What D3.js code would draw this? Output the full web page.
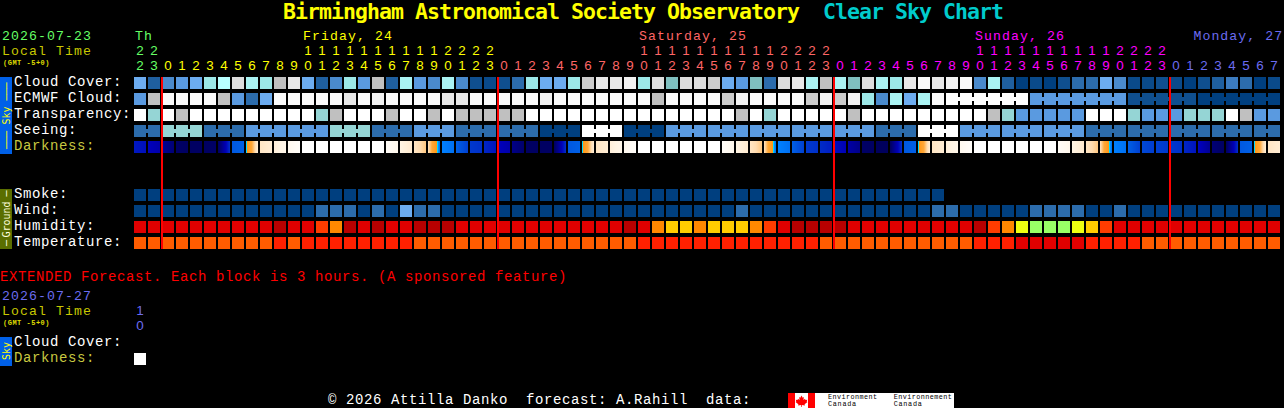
<!DOCTYPE html>
<html>
<head>
<meta charset="utf-8">
<script src="https://cdn.jsdelivr.net/npm/d3@7"></script>
<style>
html,body{margin:0;padding:0;background:#000;overflow:hidden}
svg{display:block}
</style>
</head>
<body>
<svg id="chart" width="1284" height="408"></svg>
<script>
// ---- data ----
const hours = [22,23,0,1,2,3,4,5,6,7,8,9,10,11,12,13,14,15,16,17,18,19,20,21,22,23,
  0,1,2,3,4,5,6,7,8,9,10,11,12,13,14,15,16,17,18,19,20,21,22,23,
  0,1,2,3,4,5,6,7,8,9,10,11,12,13,14,15,16,17,18,19,20,21,22,23,
  0,1,2,3,4,5,6,7];
const dayOfColumn = [0,0,
  1,1,1,1,1,1,1,1,1,1,1,1,1,1,1,1,1,1,1,1,1,1,1,1,
  2,2,2,2,2,2,2,2,2,2,2,2,2,2,2,2,2,2,2,2,2,2,2,2,
  3,3,3,3,3,3,3,3,3,3,3,3,3,3,3,3,3,3,3,3,3,3,3,3,
  4,4,4,4,4,4,4,4];
const dayNames = ["Th","Friday, 24","Saturday, 25","Sunday, 26","Monday, 27"];
const dayNameColumn = [0,12,36,60,75.6];
const dayColors = ["#66ff66","#ffff00","#ff6666","#ff00ff","#6c6cf0"];
const midnightColumns = [2,26,50,74];

const cloud = [40,15,30,35,40,50,60,75,55,50,65,80,40,15,30,50,35,65,15,55,35,
  30,55,30,10,5,10,20,50,40,40,50,70,80,80,85,50,75,45,75,75,70,40,35,45,20,75,80,55,65,55,45,
  75,55,50,80,90,80,85,90,30,55,15,0,5,0,10,20,20,40,30,5,5,10,5,0,10,15,25,20,0,5];
const ecmwf = [35,65,90,90,90,90,65,35,20,40,90,90,90,90,90,80,90,85,90,90,90,
  90,80,80,90,90,90,90,90,85,90,90,90,90,90,90,90,65,90,90,90,90,70,85,90,90,90,90,70,85,70,85,
  50,30,55,40,55,90,100,100,100,100,100,100,35,35,35,35,35,35,35,10,10,10,10,10,0,0,0,0,0,0];
const ecmwfJoinedRuns = [[58,63],[64,70],[71,75],[76,81]];
const transparency = [0,2,0,1,0,0,0,0,0,0,0,0,0,2,1,0,0,0,1,0,0,
  1,0,1,1,1,1,1,0,0,0,0,0,0,0,0,0,0,0,0,0,0,0,1,0,2,0,0,0,0,0,1,
  0,0,0,0,0,0,0,0,0,1,2,3,3,3,3,3,0,0,0,2,3,3,3,2,2,2,0,1,3,3];
const seeingBlocks = [4,2,4,3,3,2,4,3,4,4,5,0,5,3,3,3,3,3,4,0,3,3,3,4,4,4,4,4];
const darkFrom = [2.5,2.1,1.3,.3,.2,.2,.1,4,5.3,8.4,8.8,9.4,10,10,10,10,10,10,9.7,9,8.4,
  8.2,5,4.2,3.2,2.8,2.1,1,.2,.2,.1,4,5.3,8.4,8.8,9.4,10,10,10,10,10,10,9.7,9,8.4,8.2,5,4.2,3.2,2.9,2.3,1.6,
  .3,.1,.1,4,5.3,8.4,8.8,9.4,10,10,10,10,10,10,9.7,9,8.4,8.2,5,4.2,3.6,3.4,3.2,2.8,2.2,.6,.1,4,5.3,8.4];
const darkTo = [2.3,1.7,.6,.2,.2,.3,3,4.2,8.8,8.7,9.2,9.8,10,10,10,10,10,10,9.3,8.6,7.6,
  4.6,4.6,3.4,3,2.4,1.7,.4,.2,.2,3,4.2,8.8,8.7,9.2,9.8,10,10,10,10,10,10,9.3,8.6,7.6,4.6,4.6,3.4,3,2.6,2,1,
  .2,.1,3,4.2,8.8,8.7,9.2,9.8,10,10,10,10,10,10,9.3,8.6,7.6,4.6,4.6,3.4,3.3,3.2,3,2.4,1.2,.2,3,4.2,8.8,8.7];
const smoke = [0,0,0,0,0,0,0,0,0,0,0,0,0,0,0,0,0,0,0,0,0,0,0,0,0,0,0,0,0,
  0,0,0,0,0,0,0,0,0,0,0,0,0,0,0,0,0,0,0,0,0,0,0,0,0,0,0,0,0];
const wind = [0,0,0,0,0,0,0,0,0,0,0,0,0,1,1,1,0,1,0,2,1,
  1,0,0,0,0,0,0,0,0,0,0,0,0,0,0,0,0,0,0,0,0,0,1,0,0,0,0,0,0,0,0,
  0,0,0,0,0,1,1,0,0,0,0,0,1,1,1,1,0,0,1,0,0,0,0,0,0,0,0,0,0,0];
const humidity = [85,85,85,85,85,85,85,85,85,85,95,85,85,55,45,95,85,95,85,85,95,
  95,95,85,85,85,85,85,85,85,85,85,85,85,85,95,85,45,35,35,45,35,35,35,45,55,85,95,95,95,95,85,
  85,85,85,85,85,85,85,85,95,55,45,30,25,25,25,30,35,55,85,85,85,85,85,85,85,85,85,85,85,85];
const temperature = [20,20,20,20,20,20,20,20,20,20,25,20,25,25,25,25,25,25,25,25,20,
  20,20,20,20,20,20,20,20,20,20,20,20,20,20,20,25,25,25,25,25,25,25,25,25,25,25,25,25,20,20,20,
  20,20,20,20,20,20,20,20,25,25,25,30,30,30,30,30,25,25,25,25,20,20,20,20,20,20,20,20,20,20];

const cloudKeys = [0,5,10,15,20,25,30,35,40,45,50,55,60,65,70,75,80,85,90,100];
const cloudColors = ["#003f7f","#0a4a8a","#0f4f8f","#1f5f9f","#2c6cac","#3c7cc0","#4a8acc","#5a9ae0","#6cacf0","#7fbfbf",
  "#9ce8e8","#aaf3f3","#b8ffff","#c0c0c0","#cccccc","#dddddd","#e8e8e8","#f2f2f2","#fafafa","#ffffff"];
const skyKeys = [0,1,2,3,4,5];
const skyColors = ["#ffffff","#c0c0c0","#95d5d5","#5a9ae0","#2c6cac","#003f7f"];
const windKeys = [0,1,2];
const windColors = ["#003f7f","#2c6cac","#6cacf0"];
const humidityKeys = [25,30,35,45,55,85,95];
const humidityColors = ["#99ff66","#eeff11","#ffcc00","#ff8800","#ff3c00","#e00000","#b80000"];
const temperatureKeys = [20,25,30];
const temperatureColors = ["#ff5c00","#ff2000","#e00000"];
const darkStops = [0,1,2,3,4,5,5.3,5.6,5.65,7,8,9,10];
const darkColors = ["#000058","#000088","#0000b8","#0030c8","#0058e0","#0080ff","#00d8ff","#00d8ff","#ff9818","#ffa838","#ffdcb0","#fff4e4","#ffffff"];

const extendedDarkness = [10];
const rowLabels = ["Cloud Cover:","ECMWF Cloud:","Transparency:","Seeing:","Darkness:"];
const groundLabels = ["Smoke:","Wind:","Humidity:","Temperature:"];

// ---- scales ----
const x = d3.scaleBand().domain(d3.range(82)).range([134,1280]).paddingInner(2/14);
const rowY = d3.scaleOrdinal()
  .domain(["cloud","ecmwf","transparency","seeing","darkness","smoke","wind","humidity","temperature"])
  .range([77,93,109,125,141,189,205,221,237]);
const CELL = x.bandwidth();
const cloudScale = d3.scaleOrdinal(cloudKeys,cloudColors);
const skyScale = d3.scaleOrdinal(skyKeys,skyColors);
const windScale = d3.scaleOrdinal(windKeys,windColors);
const humidityScale = d3.scaleOrdinal(humidityKeys,humidityColors);
const temperatureScale = d3.scaleOrdinal(temperatureKeys,temperatureColors);
const darkScale = d3.scaleLinear(darkStops,darkColors);

const svg = d3.select("#chart");
svg.append("rect").attr("width",1284).attr("height",408).attr("fill","#000");

const MONO = "'Liberation Mono',monospace";
const TITLE = "'DejaVu Sans Mono',monospace";
function label(parent,str,px,py,color,opt={}){
  const fs = opt.size||14, adv = opt.adv||9;
  const family = opt.title?TITLE:MONO;
  const ratio = opt.title?0.602:0.6;
  return parent.append("text")
    .attr("x",px).attr("y",py).attr("fill",color)
    .attr("font-family",family).attr("font-size",fs)
    .attr("font-weight",(opt.title||opt.bold)?"bold":"normal")
    .attr("letter-spacing",(adv-ratio*fs).toFixed(3))
    .attr("text-anchor",opt.anchor||"start")
    .attr("xml:space","preserve")
    .style("white-space","pre")
    .text(str);
}
const HEAD = {size:13.2};

// ---- title ----
label(svg,"Birmingham Astronomical Society Observatory",283,19,"#ffff00",{size:21.5,adv:12,title:true});
label(svg,"Clear Sky Chart",823,19,"#00cccc",{size:21.5,adv:12,title:true});

// ---- header ----
label(svg,"2026-07-23",2,40,"#66ff66",HEAD);
label(svg,"Local Time",2,55,"#c8c800",HEAD);
label(svg,"(GMT -5+0)",3,65,"#dddd00",{size:7,adv:4.7,bold:true});
dayNames.forEach((d,i)=>{
  label(svg,d,134+14*dayNameColumn[i]+1,40,dayColors[i],HEAD);
});
const hourG = svg.append("g").attr("font-family","'Liberation Sans',sans-serif").attr("font-size",13.4).attr("text-anchor","middle");
hourG.selectAll(".tens").data(hours.map((h,k)=>({h,k})).filter(d=>d.h>=10)).join("text")
  .attr("x",d=>x(d.k)+CELL/2).attr("y",55).attr("fill",d=>dayColors[dayOfColumn[d.k]])
  .text(d=>Math.floor(d.h/10));
hourG.selectAll(".units").data(hours.map((h,k)=>({h,k}))).join("text")
  .attr("x",d=>x(d.k)+CELL/2).attr("y",70).attr("fill",d=>dayColors[dayOfColumn[d.k]])
  .text(d=>d.h%10);

// ---- side bars ----
svg.append("rect").attr("x",0).attr("y",77).attr("width",12).attr("height",77).attr("fill","#0060e8");
svg.append("rect").attr("x",0).attr("y",189).attr("width",12).attr("height",60).attr("fill","#5a6e00");
svg.append("rect").attr("x",0).attr("y",337).attr("width",12).attr("height",29).attr("fill","#0060e8");
function sideText(str,cy,color){
  svg.append("text").attr("transform",`translate(9.5,${cy}) rotate(-90)`)
    .attr("text-anchor","middle").attr("fill",color)
    .attr("font-family","'DejaVu Sans Mono',monospace").attr("font-size",10).text(str);
}
sideText("\u2500\u2500\u2500",91.5,"#ffff00"); sideText("Sky",115.5,"#ffff00"); sideText("\u2500\u2500\u2500",140,"#ffff00");
sideText("\u2500",193.5,"#ffffdd"); sideText("Ground",219.5,"#ffffdd"); sideText("\u2500",243,"#ffffdd");
sideText("Sky",351,"#ffff00");

// ---- row labels ----
rowLabels.forEach((t,i)=>label(svg,t,14,86+16*i,t==="Darkness:"?"#c8c840":"#ffffff"));
groundLabels.forEach((t,i)=>label(svg,t,14,198+16*i,"#ffffff"));

// ---- cells ----
function row(name,values,scale){
  svg.append("g").selectAll("rect").data(values).join("rect")
    .attr("x",(d,k)=>x(k)).attr("y",rowY(name))
    .attr("width",CELL).attr("height",CELL)
    .attr("shape-rendering","crispEdges")
    .attr("fill",d=>scale(d));
}
function bridges(name,pairs,color){
  svg.append("g").selectAll("rect").data(pairs).join("rect")
    .attr("x",k=>x(k)+CELL).attr("y",rowY(name)+4)
    .attr("width",x.step()-CELL).attr("height",4)
    .attr("shape-rendering","crispEdges")
    .attr("fill",color);
}
row("cloud",cloud,cloudScale);
row("ecmwf",ecmwf,cloudScale);
row("transparency",transparency,skyScale);

// seeing: three-hour blocks (the first and last are shorter)
const seeing = [];
const seeingJoins = [];
seeingBlocks.forEach((v,b)=>{
  const start = b===0?0:3*b-1;
  const end = b===0?1:Math.min(start+2,81);
  for(let k=start;k<=end;k++){
    seeing.push(v);
    if(k<end) seeingJoins.push({k,v});
  }
});
row("seeing",seeing,skyScale);
svg.append("g").selectAll("rect").data(seeingJoins).join("rect")
  .attr("x",d=>x(d.k)+CELL).attr("y",rowY("seeing")+4)
  .attr("width",x.step()-CELL).attr("height",4)
  .attr("shape-rendering","crispEdges")
  .attr("fill",d=>skyScale(d.v));
ecmwfJoinedRuns.forEach(([a,b])=>{
  bridges("ecmwf",d3.range(a,b),cloudScale(ecmwf[a]));
});

// darkness: every block shades from its value at the start of the hour to the value at the end
const strip = d3.range(CELL);
const darkG = svg.append("g").selectAll("g").data(darkFrom.map((f,k)=>({f,t:darkTo[k],k}))).join("g");
darkG.selectAll("rect").data(d=>strip.map(i=>({d,i}))).join("rect")
  .attr("x",o=>x(o.d.k)+o.i).attr("y",rowY("darkness"))
  .attr("width",1).attr("height",CELL)
  .attr("shape-rendering","crispEdges")
  .attr("fill",o=>darkScale(o.d.f+(o.d.t-o.d.f)*(o.i+.5)/CELL));

row("smoke",smoke,windScale);
row("wind",wind,windScale);
row("humidity",humidity,humidityScale);
row("temperature",temperature,temperatureScale);

// ---- midnight lines ----
svg.append("g").selectAll("rect").data(midnightColumns).join("rect")
  .attr("x",k=>x(k)-1).attr("y",77).attr("width",2).attr("height",172)
  .attr("shape-rendering","crispEdges")
  .attr("fill","#ff0000");

// ---- extended forecast ----
label(svg,"EXTENDED Forecast. Each block is 3 hours. (A sponsored feature)",0,281,"#ff0000");
label(svg,"2026-07-27",2,300,"#6c6cf0",HEAD);
label(svg,"Local Time",2,315,"#c8c800",HEAD);
label(svg,"(GMT -5+0)",3,325,"#dddd00",{size:7,adv:4.7,bold:true});
hourG.append("text").attr("x",x(0)+CELL/2).attr("y",315).attr("fill","#6c6cf0").text("1");
hourG.append("text").attr("x",x(0)+CELL/2).attr("y",330).attr("fill","#6c6cf0").text("0");
label(svg,"Cloud Cover:",14,346,"#ffffff");
label(svg,"Darkness:",14,362,"#c8c840");
svg.append("g").selectAll("rect").data(extendedDarkness).join("rect")
  .attr("x",(d,k)=>x(k)).attr("y",353).attr("width",CELL).attr("height",CELL)
  .attr("shape-rendering","crispEdges").attr("fill",d=>darkScale(d));

// ---- footer ----
label(svg,"\u00A9 2026 Attilla Danko  forecast: A.Rahill  data:",328,403.7,"#ffffff");
svg.append("rect").attr("x",788).attr("y",393).attr("width",166).attr("height",15).attr("fill","#ffffff");
svg.append("rect").attr("x",788).attr("y",393).attr("width",7).attr("height",15).attr("fill","#ff0000");
svg.append("rect").attr("x",808).attr("y",393).attr("width",7).attr("height",15).attr("fill","#ff0000");
svg.append("path")
  .attr("d","M801.5 395.5l1.2 2.2 1.2-.6-.5 3 1.6-1.3.5 1.1 1.8-.2-.6 1.9.8.5-2.9 2.2.3 1.1-3-.4-.1 2h-.6l-.1-2-3 .4.3-1.1-2.9-2.2.8-.5-.6-1.9 1.8.2.5-1.1 1.6 1.3-.5-3 1.2.6z")
  .attr("fill","#ff0000");
[["Environment",828],["Environnement",893.7]].forEach(([t,px])=>{
  label(svg,t,px,398.9,"#000000",{size:6.8,adv:4.5});
  label(svg,"Canada",px,406,"#000000",{size:6.8,adv:4.8});
});
</script>
</body>
</html>
